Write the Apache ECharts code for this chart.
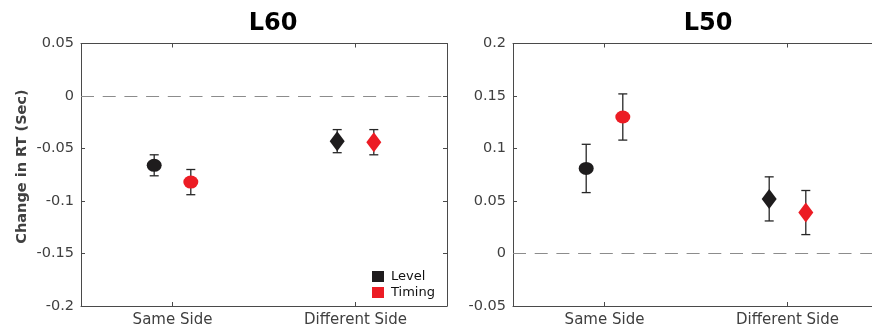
<!DOCTYPE html>
<html>
<head>
<meta charset="utf-8">
<script src="https://cdn.jsdelivr.net/npm/echarts@6/dist/echarts.min.js"></script>
<style>
  html, body { margin: 0; padding: 0; background: #fff; overflow: hidden; }
  #chart { width: 872px; height: 331px; }
</style>
</head>
<body>
<div id="chart"></div>
<script>
// Conditions on the x axis
const categories = ['Same Side', 'Different Side'];

// L60 panel: mean change in RT and error half-widths (seconds)
const l60Level = [-0.066, -0.043];
const l60LevelErr = [0.010, 0.011];
const l60Timing = [-0.082, -0.044];
const l60TimingErr = [0.012, 0.012];

// L50 panel
const l50Level = [0.081, 0.052];
const l50LevelErr = [0.023, 0.021];
const l50Timing = [0.130, 0.039];
const l50TimingErr = [0.022, 0.021];

// y-axis ranges and tick step
const l60YRange = [-0.2, 0.05];
const l50YRange = [-0.05, 0.2];
const yStep = 0.05;

const panelTitles = ['L60', 'L50'];
const seriesNames = ['Level', 'Timing'];

const LINE = '#4a4a4a';
const TEXT = '#404040';
const BLACK = '#1e1c1d';
const RED = '#ec1c24';
const FONT = '"DejaVu Sans", sans-serif';

// categories sit at 1 and 2; the two series are dodged either side
const dodge = 0.1;
const catPos = categories.map((c, i) => i + 1);
const shapes = ['circle', 'diamond'];
const shapeSize = { circle: [15, 13], diamond: [15, 20] };

function fmt(v) { return String(parseFloat(v.toFixed(3))); }

function points(values, errs, offset) {
  return values.map((v, i) => [catPos[i] + offset, v, errs[i], i]);
}

function xAxes(gridIndex, position, showLabel) {
  return {
    type: 'value', gridIndex, position, min: 0.5, max: 2.5,
    axisLine: { show: true, onZero: false, lineStyle: { color: LINE, width: 1 } },
    axisTick: { show: true, inside: true, length: 4, customValues: catPos, lineStyle: { color: LINE } },
    axisLabel: {
      show: showLabel, customValues: catPos, margin: 7,
      color: TEXT, fontSize: 15, fontFamily: FONT,
      formatter: v => categories[Math.round(v) - 1]
    },
    splitLine: { show: false }
  };
}

function yAxes(gridIndex, range, position, showLabel, showLine) {
  return {
    type: 'value', gridIndex, position, min: range[0], max: range[1], interval: yStep,
    axisLine: { show: showLine, onZero: false, lineStyle: { color: LINE, width: 1 } },
    axisTick: { show: showLine, inside: true, length: 4, lineStyle: { color: LINE } },
    axisLabel: { show: showLabel, margin: 7, color: TEXT, fontSize: 14.5, fontFamily: FONT, formatter: fmt },
    splitLine: { show: false }
  };
}

function errorSeries(name, data, axisIdx) {
  return {
    type: 'custom', name: name + ' error', xAxisIndex: axisIdx, yAxisIndex: axisIdx,
    z: 2, silent: true,
    data,
    encode: { x: 0, y: 1 },
    renderItem(params, api) {
      const x = api.value(0), y = api.value(1), e = api.value(2);
      const top = api.coord([x, y + e]);
      const bot = api.coord([x, y - e]);
      const cap = 4.5;
      const style = { stroke: '#262626', lineWidth: 1.3 };
      return {
        type: 'group',
        children: [
          { type: 'line', shape: { x1: top[0], y1: top[1], x2: bot[0], y2: bot[1] }, style },
          { type: 'line', shape: { x1: top[0] - cap, y1: top[1], x2: top[0] + cap, y2: top[1] }, style },
          { type: 'line', shape: { x1: bot[0] - cap, y1: bot[1], x2: bot[0] + cap, y2: bot[1] }, style }
        ]
      };
    }
  };
}

function markerSeries(name, data, axisIdx, color, withZero) {
  const s = {
    type: 'scatter', name, xAxisIndex: axisIdx, yAxisIndex: axisIdx, z: 3,
    data: data.map(d => ({
      value: [d[0], d[1]],
      symbol: shapes[d[3]],
      symbolSize: shapeSize[shapes[d[3]]]
    })),
    itemStyle: { color, opacity: 1 },
    emphasis: { disabled: true }
  };
  if (withZero) {
    s.markLine = {
      silent: true, symbol: 'none', label: { show: false },
      lineStyle: { color: '#8c8c8c', width: 1.2, type: [13, 8.7] },
      data: [{ yAxis: 0 }],
      animation: false
    };
  }
  return s;
}

const panels = [
  { level: points(l60Level, l60LevelErr, -dodge), timing: points(l60Timing, l60TimingErr, dodge) },
  { level: points(l50Level, l50LevelErr, -dodge), timing: points(l50Timing, l50TimingErr, dodge) }
];

const series = [];
panels.forEach((p, i) => {
  series.push(errorSeries(seriesNames[0], p.level, i));
  series.push(errorSeries(seriesNames[1], p.timing, i));
  series.push(markerSeries(seriesNames[0], p.level, i, BLACK, true));
  series.push(markerSeries(seriesNames[1], p.timing, i, RED, false));
});

const titleStyle = { fontFamily: FONT, fontWeight: 'bold', fontSize: 24, color: '#000' };

const chart = echarts.init(document.getElementById('chart'), null, { renderer: 'canvas' });
chart.setOption({
  animation: false,
  backgroundColor: '#fff',
  title: [
    { text: panelTitles[0], left: 268, top: 7, textAlign: 'center', textStyle: titleStyle },
    { text: panelTitles[1], left: 703, top: 7, textAlign: 'center', textStyle: titleStyle }
  ],
  grid: [
    { left: 81, top: 43.5, width: 366, height: 262.5, outerBoundsMode: 'none' },
    { left: 513, top: 43.5, width: 366, height: 262.5, outerBoundsMode: 'none' }
  ],
  xAxis: [
    xAxes(0, 'bottom', true),
    xAxes(1, 'bottom', true),
    xAxes(0, 'top', false),
    xAxes(1, 'top', false)
  ],
  yAxis: [
    yAxes(0, l60YRange, 'left', true, true),
    yAxes(1, l50YRange, 'left', true, true),
    yAxes(0, l60YRange, 'right', false, true),
    // the right panel's far edge runs past the page
    yAxes(1, l50YRange, 'right', false, false)
  ],
  legend: {
    data: seriesNames.map(n => ({ name: n, icon: 'rect' })),
    orient: 'vertical', left: 372, top: 270, padding: 0,
    itemWidth: 12, itemHeight: 11, itemGap: 3,
    textStyle: { fontFamily: FONT, fontSize: 13, color: '#111', padding: [0, 0, 0, 2] },
    selectedMode: false
  },
  graphic: [
    {
      type: 'text', x: 22, y: 166.5, rotation: Math.PI / 2,
      style: {
        text: 'Change in RT (Sec)', align: 'center', verticalAlign: 'middle',
        font: 'bold 14.5px "DejaVu Sans", sans-serif', fill: TEXT
      }
    }
  ],
  series
});
</script>
</body>
</html>
